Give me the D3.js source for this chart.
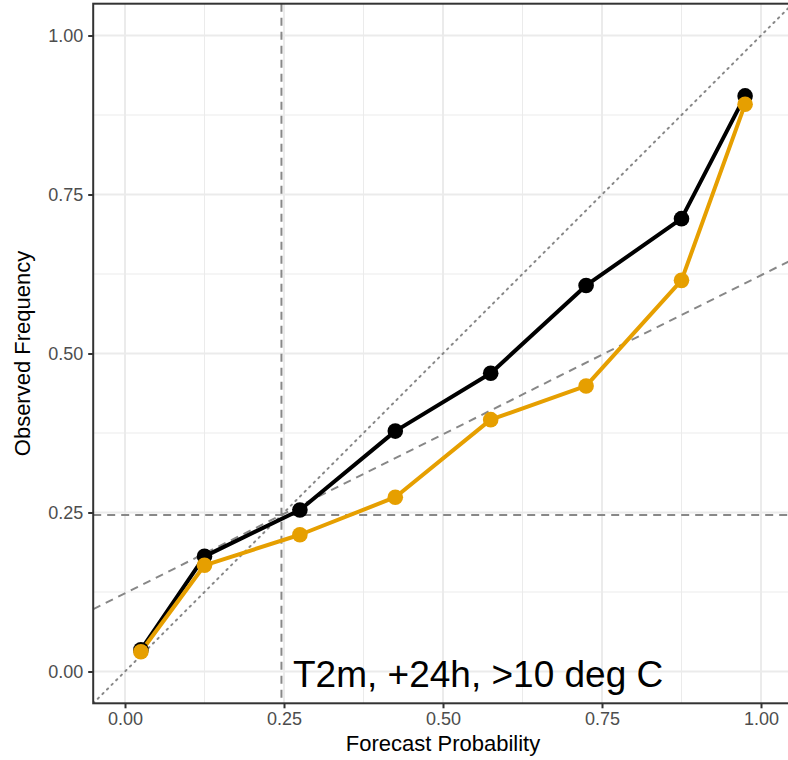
<!DOCTYPE html>
<html>
<head>
<meta charset="utf-8">
<script src="https://cdn.jsdelivr.net/npm/d3@7"></script>
<style>
  html, body { margin: 0; padding: 0; background: #fff; }
  svg { display: block; font-family: "Liberation Sans", Arial, Helvetica, sans-serif; }
</style>
</head>
<body>
<svg id="chart" width="788" height="760"></svg>
<script>
// Forecast probability bin centres
const bins = [0.025, 0.125, 0.275, 0.425, 0.575, 0.725, 0.875, 0.975];
// Observed frequency per bin, two forecast systems
const obsBlack  = [0.034, 0.181, 0.254, 0.378, 0.469, 0.607, 0.712, 0.905];
const obsOrange = [0.031, 0.167, 0.215, 0.274, 0.396, 0.449, 0.615, 0.892];
// Climatological base rate
const climatology = 0.246;
const tickValues = [0, 0.25, 0.5, 0.75, 1];
const minorValues = [0.125, 0.375, 0.625, 0.875];
const xTitle = "Forecast Probability";
const yTitle = "Observed Frequency";
const annotation = "T2m, +24h, >10 deg C";

const svg = d3.select("#chart");

// panel geometry: domain [-0.05, 1.05] on both axes
const unit = 636;
const x0 = 125, y0 = 671.5;
const x = d3.scaleLinear().domain([-0.05, 1.05]).range([x0 - 0.05 * unit, x0 + 1.05 * unit]);
const y = d3.scaleLinear().domain([-0.05, 1.05]).range([y0 + 0.05 * unit, y0 - 1.05 * unit]);
const [px0, px1] = x.range();
const [py0, py1] = [y.range()[1], y.range()[0]];

svg.append("defs").append("clipPath").attr("id", "panel")
  .append("rect").attr("x", px0).attr("y", py0).attr("width", px1 - px0).attr("height", py1 - py0);

const panel = svg.append("g").attr("clip-path", "url(#panel)");

// grid lines
panel.selectAll(".minor-x").data(minorValues).join("line")
  .attr("x1", d => x(d)).attr("x2", d => x(d)).attr("y1", py0).attr("y2", py1)
  .attr("stroke", "#ebebeb").attr("stroke-width", 1);
panel.selectAll(".minor-y").data(minorValues).join("line")
  .attr("y1", d => y(d)).attr("y2", d => y(d)).attr("x1", px0).attr("x2", px1)
  .attr("stroke", "#ebebeb").attr("stroke-width", 1);
panel.selectAll(".major-x").data(tickValues).join("line")
  .attr("x1", d => x(d)).attr("x2", d => x(d)).attr("y1", py0).attr("y2", py1)
  .attr("stroke", "#ebebeb").attr("stroke-width", 2);
panel.selectAll(".major-y").data(tickValues).join("line")
  .attr("y1", d => y(d)).attr("y2", d => y(d)).attr("x1", px0).attr("x2", px1)
  .attr("stroke", "#ebebeb").attr("stroke-width", 2);

// reference lines: perfect reliability, no-skill, climatology
const lo = -0.05, hi = 1.05;
panel.append("line")
  .attr("x1", x(lo)).attr("y1", y(lo)).attr("x2", x(hi)).attr("y2", y(hi))
  .attr("stroke", "#888").attr("stroke-width", 2).attr("stroke-dasharray", "1.5,5")
  .attr("stroke-linecap", "round");
const noSkill = p => climatology / 2 + p / 2;
panel.append("line")
  .attr("x1", x(lo)).attr("y1", y(noSkill(lo))).attr("x2", x(hi)).attr("y2", y(noSkill(hi)))
  .attr("stroke", "#888").attr("stroke-width", 2).attr("stroke-dasharray", "8,6");
panel.append("line")
  .attr("x1", px0).attr("x2", px1).attr("y1", y(climatology)).attr("y2", y(climatology))
  .attr("stroke", "#888").attr("stroke-width", 2).attr("stroke-dasharray", "8,6");
panel.append("line")
  .attr("y1", py0).attr("y2", py1).attr("x1", x(climatology)).attr("x2", x(climatology))
  .attr("stroke", "#888").attr("stroke-width", 2).attr("stroke-dasharray", "8,6");

// reliability curves
const series = [
  { values: obsBlack, color: "#000000" },
  { values: obsOrange, color: "#E69F00" }
];
const line = d3.line().x((d, i) => x(bins[i])).y(d => y(d));
series.forEach(s => {
  panel.append("path").datum(s.values).attr("d", line)
    .attr("fill", "none").attr("stroke", s.color).attr("stroke-width", 4)
    .attr("stroke-linejoin", "round");
});
series.forEach(s => {
  panel.selectAll(null).data(s.values).join("circle")
    .attr("cx", (d, i) => x(bins[i])).attr("cy", d => y(d)).attr("r", 7.8)
    .attr("fill", s.color);
});

// annotation
panel.append("text").attr("x", 293).attr("y", 687)
  .attr("font-size", 37).attr("fill", "#000").text(annotation);

// panel border
svg.append("rect").attr("x", px0).attr("y", py0).attr("width", px1 - px0).attr("height", py1 - py0)
  .attr("fill", "none").attr("stroke", "#333").attr("stroke-width", 2);

// axes
const xAxis = d3.axisBottom(x).tickValues(tickValues).tickFormat(d3.format(".2f")).tickSize(5).tickPadding(4);
const yAxis = d3.axisLeft(y).tickValues(tickValues).tickFormat(d3.format(".2f")).tickSize(5).tickPadding(5);
const gx = svg.append("g").attr("transform", `translate(0,${py1})`).call(xAxis);
const gy = svg.append("g").attr("transform", `translate(${px0},0)`).call(yAxis);
[gx, gy].forEach(g => {
  g.select(".domain").remove();
  g.selectAll(".tick line").attr("stroke", "#333").attr("stroke-width", 2);
  g.selectAll(".tick text").attr("fill", "#4d4d4d").attr("font-size", 18)
    .attr("font-family", "Liberation Sans, Arial, sans-serif");
});

// axis titles
svg.append("text").attr("x", x(0.5)).attr("y", 751).attr("text-anchor", "middle")
  .attr("font-size", 22).attr("fill", "#000").text(xTitle);
svg.append("text").attr("transform", `translate(30,${y(0.5)}) rotate(-90)`)
  .attr("text-anchor", "middle").attr("font-size", 22).attr("fill", "#000").text(yTitle);
</script>
</body>
</html>
